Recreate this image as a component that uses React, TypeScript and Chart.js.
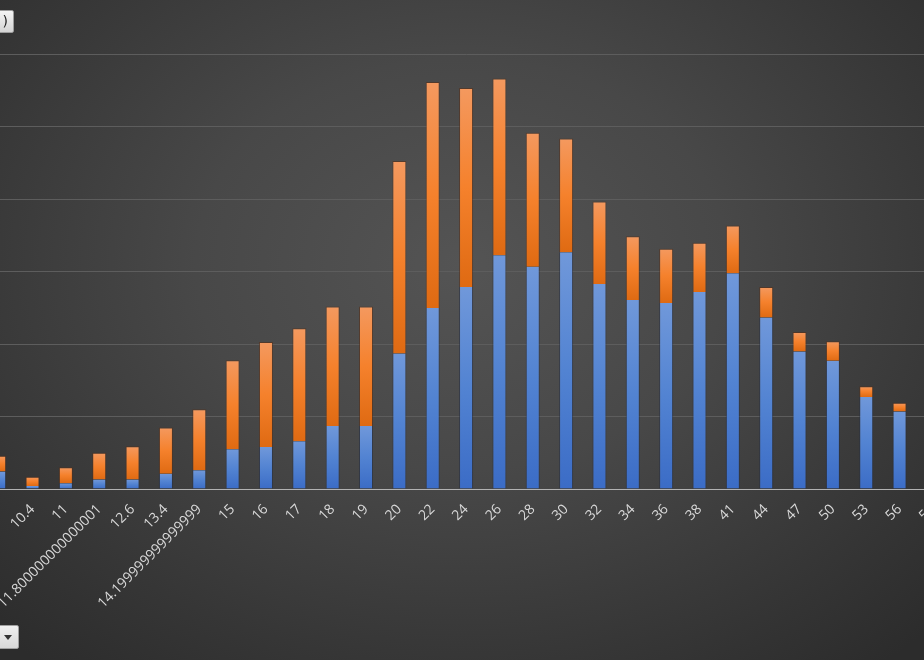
import { useEffect, useRef } from "react";
import { Chart, registerables } from "chart.js";

Chart.register(...registerables);

// Category labels along the x axis (as exported, float artefacts included)
const categories = [
  "", "10.4", "11", "11.800000000000001", "12.6", "13.4", "14.199999999999999",
  "15", "16", "17", "18", "19", "20", "22", "24", "26", "28", "30", "32", "34",
  "36", "38", "41", "44", "47", "50", "53", "56", "59",
];

// Lower (blue) segment of each stacked bar
const blueValues: (number | null)[] = [
  2.4, 0.4, 0.8, 1.3, 1.3, 2.1, 2.6, 5.5, 5.8, 6.6, 8.7, 8.7, 18.7, 25.0, 27.9,
  32.3, 30.7, 32.7, 28.3, 26.1, 25.7, 27.2, 29.8, 23.7, 19.0, 17.7, 12.7, 10.7, null,
];

// Upper (orange) segment of each stacked bar
const orangeValues: (number | null)[] = [
  2.2, 1.3, 2.2, 3.7, 4.6, 6.4, 8.4, 12.3, 14.5, 15.6, 16.5, 16.5, 26.6, 31.2, 27.5,
  24.4, 18.5, 15.7, 11.4, 8.8, 7.5, 6.8, 6.6, 4.2, 2.7, 2.7, 1.5, 1.2, null,
];

// Value axis
const yMin = 0;
const yMax = 60;
const yStep = 10;

const blueStops: [number, string][] = [
  [0, "#7098da"],
  [0.5, "#5283d2"],
  [1, "#3b6cc6"],
];
const orangeStops: [number, string][] = [
  [0, "#f4995f"],
  [0.5, "#f5812c"],
  [1, "#df6a12"],
];

// Vertical gradient spanning a single bar segment
function segmentFill(ctx: any, stops: [number, string][]) {
  const chart = ctx.chart;
  if (!chart.chartArea || ctx.type !== "data") return stops[1][1];
  const y = chart.scales.y;
  const i = ctx.dataIndex;
  const base = ctx.datasetIndex === 0 ? 0 : (blueValues[i] ?? 0);
  const raw = ctx.datasetIndex === 0 ? blueValues[i] : orangeValues[i];
  const top = base + (raw ?? 0);
  const y0 = y.getPixelForValue(top);
  const y1 = y.getPixelForValue(base);
  if (!isFinite(y0) || !isFinite(y1) || y0 === y1) return stops[1][1];
  const g = chart.ctx.createLinearGradient(0, y0, 0, y1);
  stops.forEach(([o, c]) => g.addColorStop(o, c));
  return g;
}

const CANVAS_W = 1030;
const CANVAS_H = 660;
const CANVAS_LEFT = -40;

export default function App() {
  const ref = useRef<HTMLCanvasElement>(null);

  useEffect(() => {
    if (!ref.current) return;
    const chart = new Chart(ref.current, {
      type: "bar",
      data: {
        labels: categories,
        datasets: [
          {
            data: blueValues,
            backgroundColor: (c: any) => segmentFill(c, blueStops),
            borderColor: "rgba(35,45,70,0.55)",
            borderWidth: { top: 0, left: 1, right: 1, bottom: 0 },
            borderSkipped: false,
            barPercentage: 0.42,
            categoryPercentage: 1,
          },
          {
            data: orangeValues,
            backgroundColor: (c: any) => segmentFill(c, orangeStops),
            borderColor: "rgba(90,45,20,0.55)",
            borderWidth: { top: 1, left: 1, right: 1, bottom: 0 },
            borderSkipped: false,
            barPercentage: 0.42,
            categoryPercentage: 1,
          },
        ],
      },
      options: {
        responsive: false,
        animation: false,
        devicePixelRatio: 1,
        layout: { padding: { left: 22.5, right: 40.4, top: 54.6, bottom: 0 } },
        plugins: {
          legend: { display: false },
          tooltip: { enabled: false },
        },
        scales: {
          x: {
            stacked: true,
            offset: true,
            grid: { display: false },
            border: { color: "#b2b2b2", width: 1 },
            ticks: {
              color: "#d9d9d9",
              font: { family: '"Open Sans", sans-serif', size: 14 },
              minRotation: 45,
              maxRotation: 45,
              autoSkip: false,
              padding: 4,
            },
            afterFit: (s: any) => {
              s.height = 171;
              s.paddingLeft = 0;
              s.paddingRight = 0;
            },
          },
          y: {
            stacked: true,
            min: yMin,
            max: yMax,
            ticks: { display: false, stepSize: yStep },
            grid: { color: "#5d5d5d", lineWidth: 1, drawTicks: false },
            border: { display: false },
            afterFit: (s: any) => {
              s.width = 0;
              s.paddingTop = 0;
              s.paddingBottom = 0;
            },
          },
        },
      },
    });
    return () => chart.destroy();
  }, []);

  return (
    <div
      style={{
        position: "fixed",
        left: 0,
        top: 0,
        width: 924,
        height: 660,
        overflow: "hidden",
        background:
          "radial-gradient(ellipse 72% 78% at 50% 40%, #545454 0%, #484848 40%, #363636 78%, #2c2c2c 100%)",
      }}
    >
      <canvas
        ref={ref}
        width={CANVAS_W}
        height={CANVAS_H}
        style={{ position: "absolute", left: CANVAS_LEFT, top: 0, width: CANVAS_W, height: CANVAS_H }}
      />
      <div
        style={{
          position: "absolute",
          left: -12,
          top: 10,
          width: 24,
          height: 21,
          background: "linear-gradient(#f4f4f4, #d4d4d4)",
          border: "1px solid #9c9c9c",
          borderRadius: 2,
          fontFamily: '"DejaVu Sans", sans-serif',
          fontSize: 14,
          lineHeight: "21px",
          color: "#1f1f1f",
          textAlign: "right",
          boxSizing: "content-box",
        }}
      >
        <span style={{ paddingRight: 5 }}>)</span>
      </div>
      <div
        style={{
          position: "absolute",
          left: -4,
          top: 625,
          width: 21,
          height: 22,
          background: "linear-gradient(#f0f0f0, #d8d8d8)",
          border: "1px solid #a0a0a0",
          borderRadius: 2,
        }}
      >
        <div
          style={{
            position: "absolute",
            left: 7,
            top: 9,
            width: 0,
            height: 0,
            borderLeft: "4px solid transparent",
            borderRight: "4px solid transparent",
            borderTop: "5px solid #333",
          }}
        />
      </div>
    </div>
  );
}
